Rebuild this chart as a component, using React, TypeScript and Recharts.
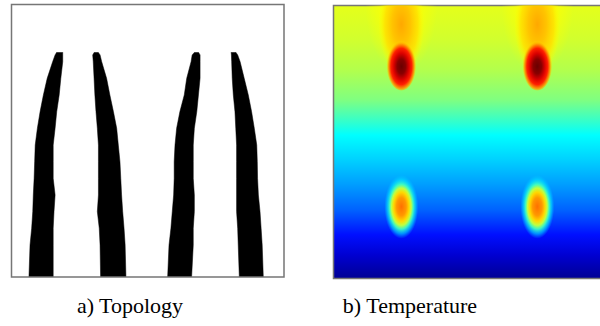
import React from 'react';
import { ComposedChart, Area, XAxis, YAxis, ReferenceArea, Scatter, CartesianGrid } from 'recharts';

// ---------- Topology (design domain 0..100 in both directions, y measured from the bottom) ----------
const levels = [82.5, 81.5, 79.0, 72.9, 66.8, 60.7, 54.6, 48.4, 42.3, 36.2, 30.1, 24.0, 17.9, 11.7, 0];
const bar1Left = [16.6, 16.0, 15.1, 13.1, 11.7, 10.5, 9.5, 8.7, 8.5, 8.3, 8.0, 7.8, 7.4, 6.8, 6.4];
const bar1Right = [18.8, 18.8, 18.8, 18.1, 17.5, 16.6, 16.0, 15.3, 15.3, 15.3, 16.0, 15.6, 15.3, 15.3, 15.3];
const bar2Left = [30.4, 29.8, 30.0, 30.3, 30.6, 31.0, 31.5, 31.9, 31.9, 31.9, 31.9, 31.5, 32.2, 32.5, 32.7];
const bar2Right = [31.8, 32.5, 33.1, 34.9, 36.1, 37.4, 38.6, 39.2, 39.8, 40.1, 40.4, 40.8, 41.3, 41.7, 42.0];
const bar3Left = [67.2, 66.3, 65.9, 64.3, 63.4, 61.8, 60.6, 60.0, 59.7, 59.7, 59.5, 59.0, 58.5, 57.8, 57.3];
const bar3Right = [68.6, 69.2, 69.2, 69.2, 68.6, 68.0, 67.1, 66.7, 66.7, 66.7, 67.1, 67.1, 66.7, 66.7, 66.1];
const bar4Left = [80.6, 80.7, 80.8, 81.0, 81.4, 82.0, 82.3, 82.6, 82.6, 82.6, 82.6, 82.6, 83.0, 83.2, 83.6];
const bar4Right = [82.3, 83.0, 83.9, 85.4, 86.9, 88.1, 89.1, 90.0, 90.2, 90.3, 90.6, 91.2, 91.6, 92.0, 92.4];

const topologyData = levels.map((h, i) => ({
  h,
  b1: [bar1Left[i], bar1Right[i]],
  b2: [bar2Left[i], bar2Right[i]],
  b3: [bar3Left[i], bar3Right[i]],
  b4: [bar4Left[i], bar4Right[i]],
}));
const barKeys = ['b1', 'b2', 'b3', 'b4'];

// ---------- Temperature ----------
const tempHeights = [100, 87.5, 76.5, 65.5, 58, 52.5, 43.5, 34.5, 25, 16, 8.5, 0];
const tempValues = [0.6, 0.58, 0.55, 0.5, 0.43, 0.375, 0.33, 0.28, 0.22, 0.14, 0.08, 0.02];
const upperSources = [{ x: 24.9, y: 77.7 }, { x: 74.8, y: 77.7 }];
const lowerSources = [{ x: 24.9, y: 26.3 }, { x: 74.8, y: 26.3 }];

const captions = ['a) Topology', 'b) Temperature'];

function clamp(v: number) {
  return Math.max(0, Math.min(1, v));
}
function jet(t: number) {
  const r = clamp(1.5 - Math.abs(4 * t - 3));
  const g = clamp(1.5 - Math.abs(4 * t - 2));
  const b = clamp(1.5 - Math.abs(4 * t - 1));
  return `rgb(${Math.round(r * 255)},${Math.round(g * 255)},${Math.round(b * 255)})`;
}

const BORDER = '#767676';
const SERIF = '"Liberation Serif", "Times New Roman", Times, serif';

const PlumeShape = (props: any) => {
  const { cx, cy } = props;
  if (cx == null || cy == null) return null;
  return (
    <g clipPath="url(#tempClip)">
      <ellipse cx={cx} cy={cy - 62} rx={36} ry={70} fill="url(#glowGrad)" />
      <ellipse cx={cx} cy={cy - 42} rx={23} ry={50} fill="url(#plumeGrad)" />
    </g>
  );
};
const HotShape = (props: any) => {
  const { cx, cy } = props;
  if (cx == null || cy == null) return null;
  return <ellipse cx={cx} cy={cy - 2} rx={15} ry={26} fill="url(#hotGrad)" />;
};
const WarmShape = (props: any) => {
  const { cx, cy } = props;
  if (cx == null || cy == null) return null;
  return <ellipse cx={cx} cy={cy} rx={17} ry={32} fill="url(#warmGrad)" />;
};

export default function App() {
  return (
    <div style={{ position: 'absolute', left: 0, top: 0, width: 600, height: 326, overflow: 'hidden', background: '#fff' }}>
      <div style={{ position: 'absolute', left: 0, top: 0 }}>
        <ComposedChart
          layout="vertical"
          width={300}
          height={290}
          data={topologyData}
          margin={{ top: 4.5, right: 16, bottom: 13, left: 11.5 }}
        >
          <XAxis type="number" domain={[0, 100]} hide />
          <YAxis type="number" dataKey="h" domain={[0, 100]} reversed hide />
          {barKeys.map((k) => (
            <Area
              key={k}
              dataKey={k}
              type="linear"
              fill="#000"
              fillOpacity={1}
              stroke="#000"
              strokeWidth={0.5}
              isAnimationActive={false}
              dot={false}
              activeDot={false}
            />
          ))}
          <ReferenceArea x1={0} x2={100} y1={0} y2={100} fill="none" fillOpacity={0} stroke={BORDER} strokeWidth={1.5} />
        </ComposedChart>
      </div>
      <div style={{ position: 'absolute', left: 300, top: 0 }}>
        <ComposedChart width={310} height={290} margin={{ top: 5.5, right: 4, bottom: 11.5, left: 33.5 }}>
          <defs>
            <linearGradient id="jetBg" x1="0" y1="0" x2="0" y2="1">
              {tempHeights.map((h, i) => (
                <stop key={i} offset={(100 - h) / 100} stopColor={jet(tempValues[i])} />
              ))}
            </linearGradient>
            <radialGradient id="glowGrad">
              <stop offset="0" stopColor="#ffff00" stopOpacity={0.95} />
              <stop offset="0.6" stopColor="#ffff00" stopOpacity={0.55} />
              <stop offset="1" stopColor="#ffff00" stopOpacity={0} />
            </radialGradient>
            <radialGradient id="plumeGrad">
              <stop offset="0" stopColor="#ffa800" stopOpacity={1} />
              <stop offset="0.4" stopColor="#ffc400" stopOpacity={1} />
              <stop offset="0.72" stopColor="#ffe000" stopOpacity={0.85} />
              <stop offset="1" stopColor="#ffff00" stopOpacity={0} />
            </radialGradient>
            <radialGradient id="hotGrad" cy="0.54">
              <stop offset="0" stopColor="#6a0000" />
              <stop offset="0.28" stopColor="#880000" />
              <stop offset="0.5" stopColor="#d80000" />
              <stop offset="0.7" stopColor="#ff2000" />
              <stop offset="0.85" stopColor="#ff9000" stopOpacity={0.9} />
              <stop offset="1" stopColor="#ffe000" stopOpacity={0} />
            </radialGradient>
            <radialGradient id="warmGrad">
              <stop offset="0" stopColor="#ff7000" />
              <stop offset="0.28" stopColor="#ff9800" />
              <stop offset="0.45" stopColor="#ffd800" />
              <stop offset="0.58" stopColor="#c0ff40" />
              <stop offset="0.7" stopColor="#40ffc0" stopOpacity={0.95} />
              <stop offset="0.85" stopColor="#00e0ff" stopOpacity={0.6} />
              <stop offset="1" stopColor="#00c0ff" stopOpacity={0} />
            </radialGradient>
            <clipPath id="tempClip">
              <rect x={33.5} y={5.5} width={272.5} height={273} />
            </clipPath>
          </defs>
          <XAxis type="number" dataKey="x" domain={[0, 100]} hide />
          <YAxis type="number" dataKey="y" domain={[0, 100]} hide />
          <CartesianGrid horizontal={false} vertical={false} fill="url(#jetBg)" fillOpacity={1} />
          <Scatter data={upperSources} shape={PlumeShape} isAnimationActive={false} />
          <Scatter data={upperSources} shape={HotShape} isAnimationActive={false} />
          <Scatter data={lowerSources} shape={WarmShape} isAnimationActive={false} />
          <ReferenceArea x1={0} x2={100} y1={0} y2={100} fill="none" fillOpacity={0} stroke={BORDER} strokeWidth={1.5} />
        </ComposedChart>
      </div>
      <svg width={600} height={326} style={{ position: 'absolute', left: 0, top: 0, pointerEvents: 'none' }}>
        <text x={130} y={313} textAnchor="middle" style={{ fontFamily: SERIF, fontSize: 22 }} fill="#000">
          {captions[0]}
        </text>
        <text x={410} y={313} textAnchor="middle" style={{ fontFamily: SERIF, fontSize: 22 }} fill="#000">
          {captions[1]}
        </text>
      </svg>
    </div>
  );
}
